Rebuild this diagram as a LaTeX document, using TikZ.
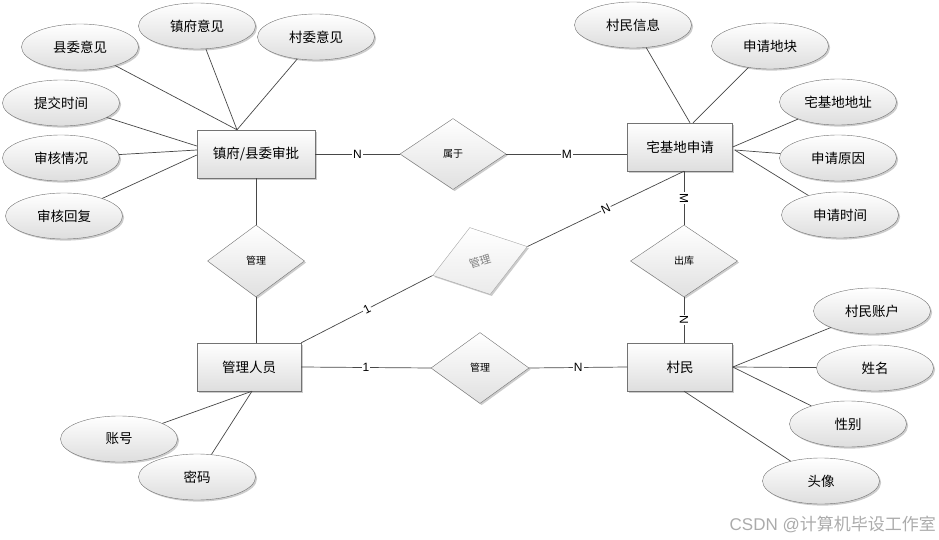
\documentclass[tikz,border=0pt]{standalone}
\usepackage{fontspec}
\setmainfont{Liberation Sans}
\newfontfamily\cjk{Noto Sans CJK SC}
\usetikzlibrary{shapes.geometric,shadows}
\begin{document}
\begin{tikzpicture}[x=1pt,y=-1pt,
  shad/.style={drop shadow={shadow xshift=1.6pt,shadow yshift=-1.6pt,fill=black!40,opacity=0.5}},
  ent/.style={shad,draw=black!55,rectangle,minimum width=#1,minimum height=48pt,inner sep=0pt,
    top color=white,bottom color=black!13,font=\cjk\fontsize{13.5}{15}\selectfont},
  attr/.style={shad,draw=black!55,ellipse,minimum width=117pt,minimum height=46pt,inner sep=0pt,
    top color=white,bottom color=black!13,font=\cjk\fontsize{13.5}{15}\selectfont},
  rel/.style={shad,draw=black!55,diamond,minimum width=106pt,minimum height=71pt,inner sep=0pt,
    top color=white,bottom color=black!12,font=\cjk\fontsize{10}{12}\selectfont},
  ln/.style={draw=black!72,line width=0.7pt},
  card/.style={fill=white,inner sep=1pt,font=\fontsize{12}{12}\selectfont},
]
\useasboundingbox (0,0) rectangle (939,540);

% entities
\node[ent=118pt] (zf)  at (256,154) {镇府/县委审批};
\node[ent=105pt] (zjd) at (680,147) {宅基地申请};
\node[ent=104pt] (gly) at (249,367) {管理人员};
\node[ent=105pt] (cm)  at (680,367) {村民};

% relationships
\node[rel] (sy) at (453,154) {属于};
\node[rel,minimum width=97pt,minimum height=72pt] (gl1) at (256,261) {管理};
\node[rel,minimum width=98pt,minimum height=71pt] (gl3) at (480,368) {管理};
\node[rel,minimum width=107pt,minimum height=72pt] (ck) at (684,261) {出库};
\node[rel,rotate=17,minimum width=99pt,minimum height=70pt,draw=black!35,text=black!50,
  bottom color=black!8,font=\cjk\fontsize{11}{12}\selectfont] (gl2) at (480,261) {管理};

% attributes of 镇府/县委审批
\node[attr] (xwyj) at (80,47) {县委意见};
\node[attr] (zfyj) at (197,26) {镇府意见};
\node[attr] (cwyj) at (316,37) {村委意见};
\node[attr] (tjsj) at (61,103) {提交时间};
\node[attr] (shqk) at (61,158) {审核情况};
\node[attr] (shhf) at (64,216) {审核回复};

% attributes of 宅基地申请
\node[attr] (cmxx) at (633,25) {村民信息};
\node[attr] (sqdk) at (770,46) {申请地块};
\node[attr] (zjddz) at (838,102) {宅基地地址};
\node[attr] (sqyy) at (838,158) {申请原因};
\node[attr] (sqsj) at (840,215) {申请时间};

% attributes of 村民
\node[attr] (cmzh) at (872,311) {村民账户};
\node[attr] (xm) at (875,368) {姓名};
\node[attr] (xb) at (848,424) {性别};
\node[attr] (tx) at (821,481) {头像};

% attributes of 管理人员
\node[attr] (zh) at (119,439) {账号};
\node[attr] (mm) at (197,477) {密码};

% watermark
\node[anchor=east,text=black!33,inner sep=0pt,font=\fontsize{17}{19}\selectfont] (wm) at (936,524) {CSDN @{\cjk 计算机毕设工作室}};

% attribute connectors
\draw[ln] (xwyj) -- ([xshift=-19pt]zf.north);
\draw[ln] (zfyj) -- ([xshift=-19pt]zf.north);
\draw[ln] (cwyj) -- ([xshift=-19pt]zf.north);
\draw[ln] (tjsj) -- ([yshift=8pt]zf.west);
\draw[ln] (shqk) -- ([yshift=4pt]zf.west);
\draw[ln] (shhf) -- ([yshift=-1pt]zf.west);

\draw[ln] (cmxx) -- ([xshift=10pt]zjd.north);
\draw[ln] (sqdk) -- ([xshift=13pt]zjd.north);
\draw[ln] (zjddz) -- (zjd.east);
\draw[ln] (sqyy) -- ([xshift=2pt,yshift=-3pt]zjd.east);
\draw[ln] (sqsj) -- ([xshift=2pt,yshift=-3pt]zjd.east);

\draw[ln] (cmzh) -- (cm.east);
\draw[ln] (xm) -- (cm.east);
\draw[ln] (xb) -- (cm.east);
\draw[ln] (tx) -- ([xshift=4pt]cm.south);

\draw[ln] (zh) -- ([xshift=3pt]gly.south);
\draw[ln] (mm) -- ([xshift=3pt]gly.south);

% relationship connectors
\draw[ln] (zf.east) -- (sy.west) node[card,midway] {N};
\draw[ln] (sy.east) -- ([yshift=-7pt]zjd.west) node[card,midway] {M};
\draw[ln] (zf.south) -- (gl1.north);
\draw[ln] (gl1.south) -- ([xshift=7pt]gly.north);
\draw[ln] (gly.north east) -- (gl2.west) node[card,midway,sloped] {1};
\draw[ln] (gl2.east) -- (ck.north |- zjd.south) node[card,midway,sloped] {N};
\draw[ln] (ck.north |- zjd.south) -- (ck.north) node[card,midway,rotate=-90] {M};
\draw[ln] (ck.south) -- (ck.south |- cm.north) node[card,midway,rotate=-90] {N};
\draw[ln] (gly.east) -- (gl3.west) node[card,midway] {1};
\draw[ln] (gl3.east) -- (cm.west) node[card,midway] {N};
\end{tikzpicture}
\end{document}
